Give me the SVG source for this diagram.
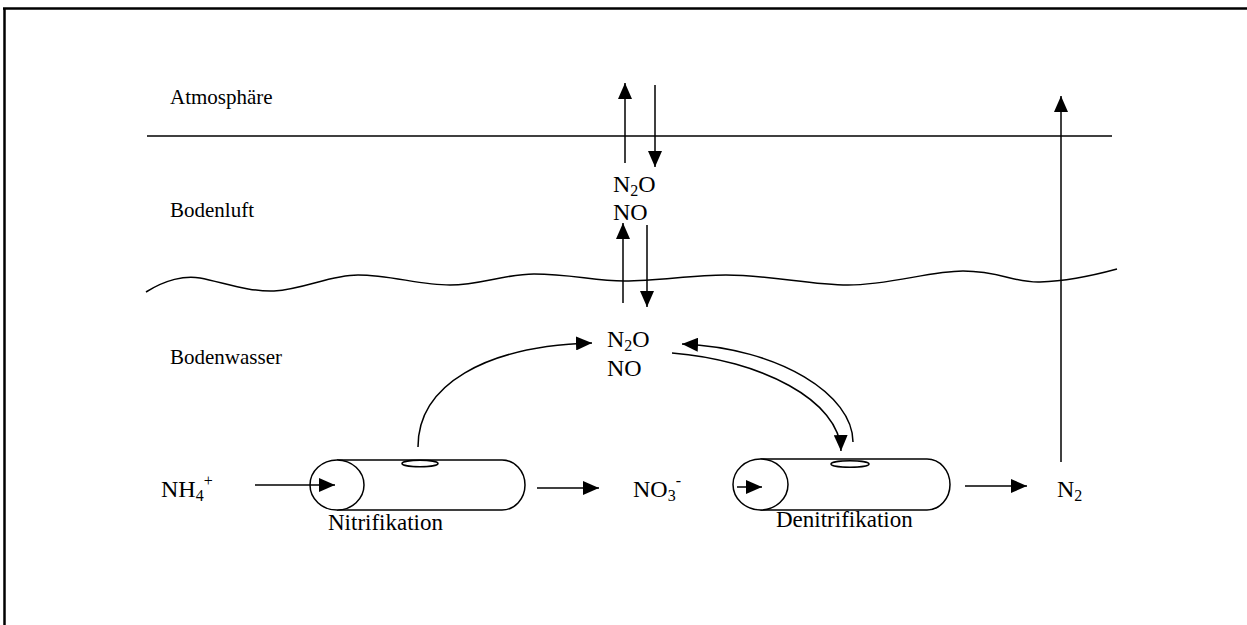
<svg xmlns="http://www.w3.org/2000/svg" width="1247" height="625" viewBox="0 0 1247 625">
<style>
.t{font-family:"Liberation Serif","DejaVu Serif","Times New Roman",serif;font-size:21px;fill:#000}
.p{font-family:"Liberation Serif","DejaVu Serif","Times New Roman",serif;font-size:23px;fill:#000}
.f{font-family:"Liberation Serif","DejaVu Serif","Times New Roman",serif;font-size:24px;fill:#000}
.ln{fill:none;stroke:#000;stroke-width:1.5}
.cyl{fill:#fff;stroke:#000;stroke-width:1.5}
</style>
<defs>
<marker id="ah" markerUnits="userSpaceOnUse" markerWidth="16" markerHeight="14" refX="16" refY="7" orient="auto">
<path d="M0,0 L16,7 L0,14 z" fill="#000"/>
</marker>
</defs>
<rect width="1247" height="625" fill="#fff"/>
<g id="frame">
<line x1="3" y1="8.5" x2="1247" y2="8.5" stroke="#000" stroke-width="2.5"/>
<line x1="4.5" y1="8" x2="4.5" y2="625" stroke="#000" stroke-width="2.5"/>
</g>
<g id="layers">
<line class="ln" x1="147" y1="136" x2="1112" y2="136"/>
<path class="ln" d="M146,292 C165,280 185,275 200,278 C225,283 250,292 274,291 C305,289 330,275 358,275 C390,275 420,285 450,285 C480,285 505,274 534,274 C570,274 595,281 624,281 C660,281 690,275 726,275 C770,275 810,285 848,285 C890,285 930,271 963,271 C1000,271 1015,283 1040,282 C1070,281 1095,275 1117,269"/>
</g>
<g id="labels">
<text class="t" x="170" y="104">Atmosphäre</text>
<text class="t" x="170" y="217">Bodenluft</text>
<text class="t" x="170" y="364">Bodenwasser</text>
</g>
<g id="gas-upper">
<text class="f" x="613" y="192">N<tspan font-size="16" dy="4">2</tspan><tspan dy="-4">O</tspan></text>
<text class="f" x="613" y="220">NO</text>
</g>
<g id="gas-lower">
<text class="f" x="607" y="347">N<tspan font-size="16" dy="4">2</tspan><tspan dy="-4">O</tspan></text>
<text class="f" x="607" y="376">NO</text>
</g>
<g id="nh4">
<text class="f" x="161" y="497">NH<tspan font-size="16" dy="4">4</tspan><tspan font-size="16" dy="-15">+</tspan></text>
</g>
<g id="no3">
<text class="f" x="633" y="497">NO<tspan font-size="16" dy="4">3</tspan><tspan font-size="16" dy="-15">-</tspan></text>
</g>
<g id="n2">
<text class="f" x="1057" y="497">N<tspan font-size="16" dy="4">2</tspan></text>
</g>
<g id="nitrifikation">
<path class="cyl" d="M337,460 H502 A23,25 0 0 1 502,510 H337"/>
<ellipse class="cyl" cx="337" cy="485" rx="27" ry="25"/>
<ellipse class="cyl" cx="420" cy="463.5" rx="18" ry="3.2"/>
<text class="p" x="328" y="530">Nitrifikation</text>
</g>
<g id="denitrifikation">
<path class="cyl" d="M760.5,459 H927 A23,25.5 0 0 1 927,510 H760.5"/>
<ellipse class="cyl" cx="760.5" cy="484.5" rx="27.5" ry="25.5"/>
<ellipse class="cyl" cx="850" cy="464" rx="19" ry="3.3"/>
<text class="p" x="776" y="527">Denitrifikation</text>
</g>
<g id="connectors">
<line class="ln" x1="625" y1="163" x2="625" y2="83" marker-end="url(#ah)"/>
<line class="ln" x1="655" y1="85" x2="655" y2="167" marker-end="url(#ah)"/>
<line class="ln" x1="623" y1="303" x2="623" y2="223" marker-end="url(#ah)"/>
<line class="ln" x1="647" y1="225" x2="647" y2="307" marker-end="url(#ah)"/>
<line class="ln" x1="1061" y1="462" x2="1061" y2="96" marker-end="url(#ah)"/>
<line class="ln" x1="255" y1="485" x2="335" y2="485" marker-end="url(#ah)"/>
<line class="ln" x1="537" y1="488" x2="599" y2="488" marker-end="url(#ah)"/>
<line class="ln" x1="737" y1="487" x2="762" y2="487" marker-end="url(#ah)"/>
<line class="ln" x1="965" y1="486" x2="1027" y2="486" marker-end="url(#ah)"/>
<path class="ln" d="M418,447 C418,385 485,346 592,343" marker-end="url(#ah)"/>
<path class="ln" d="M853,442 C853,395 780,348 682,344" marker-end="url(#ah)"/>
<path class="ln" d="M672,353 C760,360 840,400 841,451" marker-end="url(#ah)"/>
</g>
</svg>
